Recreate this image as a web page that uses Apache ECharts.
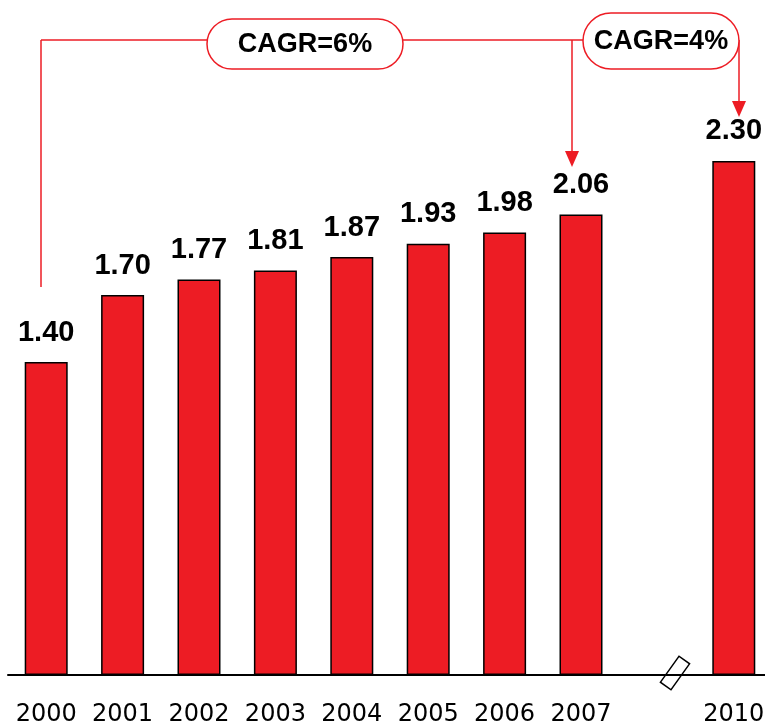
<!DOCTYPE html>
<html lang="en">
<head>
    <meta charset="UTF-8">
    <title>CAGR</title>
    <script src="https://cdn.jsdelivr.net/npm/echarts@6/dist/echarts.min.js"></script>
</head>
<body style="margin: 0;">
<div id="container" style="width: 765px; height: 721px;"></div>
<script type="text/javascript">

    // years on the axis, the empty slot is the axis break
    let years = ['2000', '2001', '2002', '2003', '2004', '2005', '2006', '2007', '', '2010'];
    let values = [1.40, 1.70, 1.77, 1.81, 1.87, 1.93, 1.98, 2.06, null, 2.30];
    let cagrLabels = ['CAGR=6%', 'CAGR=4%'];

    let red = '#ed1c24';
    let font = '"Liberation Sans", Arial, sans-serif';

    let dom = document.getElementById("container");
    let myChart = echarts.init(dom);

    // arrow head pointing down, tip at (x, y)
    function arrow(x, y) {
        return {
            type: 'polygon',
            shape: {points: [[x - 7, y - 16], [x + 7, y - 16], [x, y]]},
            style: {fill: red}
        };
    }

    function line(x1, y1, x2, y2) {
        return {
            type: 'line',
            shape: {x1: x1, y1: y1, x2: x2, y2: y2},
            style: {stroke: red, lineWidth: 1.5}
        };
    }

    function pill(x, y, w, h, text) {
        return {
            type: 'group',
            children: [{
                type: 'rect',
                shape: {x: x, y: y, width: w, height: h, r: h / 2},
                style: {fill: '#fff', stroke: red, lineWidth: 1.5}
            }, {
                type: 'text',
                x: x + w / 2,
                y: y + h / 2 + 1,
                style: {
                    text: text, fill: '#000', font: 'bold 27px ' + font,
                    align: 'center', verticalAlign: 'middle'
                }
            }]
        };
    }

    let option = {
        animation: false,
        grid: {left: 8, width: 764, top: 4.5, bottom: 46, outerBoundsMode: 'none', containLabel: false},
        xAxis: {
            type: 'category',
            data: years,
            axisLine: {lineStyle: {color: '#000', width: 2}},
            axisTick: {show: false},
            axisLabel: {color: '#000', fontSize: 24, fontFamily: '"DejaVu Sans", sans-serif', margin: 28, interval: 0}
        },
        yAxis: {
            type: 'value',
            min: 0,
            max: 3,
            show: false
        },
        series: [{
            type: 'bar',
            data: values,
            barWidth: 43,
            itemStyle: {color: red, borderColor: '#000', borderWidth: 1.5},
            label: {
                show: true,
                position: 'top',
                distance: 15,
                color: '#000',
                fontSize: 29,
                fontWeight: 'bold',
                fontFamily: font,
                formatter: function (p) {
                    return p.value.toFixed(2);
                }
            }
        }],
        graphic: [
            line(41, 40, 41, 287),
            line(41, 40, 583, 40),
            line(572, 40, 572, 152),
            arrow(572, 167),
            line(739, 40, 739, 102),
            arrow(739, 117),
            pill(207, 19, 196, 50, cagrLabels[0]),
            pill(583, 13, 156, 56, cagrLabels[1]),
            {
                type: 'rect',
                x: 675, y: 673,
                rotation: -0.62,
                shape: {x: -6.5, y: -16, width: 13, height: 32},
                style: {fill: '#fff', stroke: '#000', lineWidth: 1.5}
            }
        ]
    };
    myChart.setOption(option, true);

</script>
</body>
</html>
